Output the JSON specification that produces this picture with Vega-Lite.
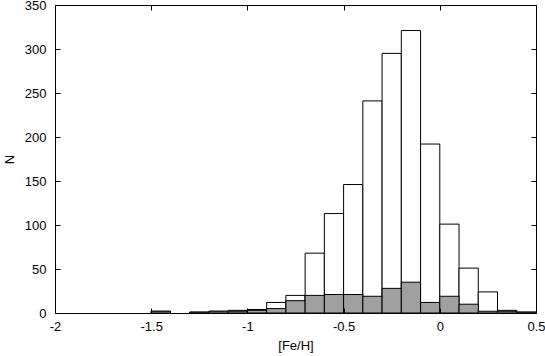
{
  "$schema": "https://vega.github.io/schema/vega-lite/v6.json",
  "autosize": {"type": "none"},
  "width": 481,
  "height": 308,
  "padding": {"left": 55, "top": 5, "right": 9, "bottom": 43},
  "background": "white",
  "config": {
    "view": {"stroke": "black", "strokeWidth": 1},
    "font": "Liberation Sans",
    "axis": {
      "grid": false,
      "domain": false,
      "ticks": true,
      "tickColor": "black",
      "tickWidth": 1,
      "tickSize": 5,
      "offset": -5,
      "labelFont": "Liberation Sans",
      "labelFontSize": 13,
      "labelColor": "black",
      "titleFont": "Liberation Sans",
      "titleFontSize": 13,
      "titleFontWeight": "normal",
      "titleColor": "black"
    }
  },
  "data": {
    "values": [
      {"lo": -1.5, "hi": -1.4, "all": 2, "sub": 2},
      {"lo": -1.3, "hi": -1.2, "all": 1, "sub": 1},
      {"lo": -1.2, "hi": -1.1, "all": 2, "sub": 2},
      {"lo": -1.1, "hi": -1.0, "all": 3, "sub": 2},
      {"lo": -1.0, "hi": -0.9, "all": 4, "sub": 3},
      {"lo": -0.9, "hi": -0.8, "all": 12, "sub": 5},
      {"lo": -0.8, "hi": -0.7, "all": 20, "sub": 14},
      {"lo": -0.7, "hi": -0.6, "all": 68, "sub": 20},
      {"lo": -0.6, "hi": -0.5, "all": 113, "sub": 21},
      {"lo": -0.5, "hi": -0.4, "all": 146, "sub": 21},
      {"lo": -0.4, "hi": -0.3, "all": 241, "sub": 19},
      {"lo": -0.3, "hi": -0.2, "all": 295, "sub": 28},
      {"lo": -0.2, "hi": -0.1, "all": 321, "sub": 35},
      {"lo": -0.1, "hi": 0.0, "all": 192, "sub": 12},
      {"lo": 0.0, "hi": 0.1, "all": 101, "sub": 19},
      {"lo": 0.1, "hi": 0.2, "all": 51, "sub": 10},
      {"lo": 0.2, "hi": 0.3, "all": 24, "sub": 2},
      {"lo": 0.3, "hi": 0.4, "all": 3, "sub": 2},
      {"lo": 0.4, "hi": 0.5, "all": 1, "sub": 1}
    ]
  },
  "layer": [
    {
      "mark": {"type": "bar", "fill": "white", "stroke": "black", "strokeWidth": 1},
      "encoding": {
        "x": {
          "field": "lo", "type": "quantitative",
          "scale": {"domain": [-2, 0.5], "nice": false, "zero": false},
          "axis": {
            "orient": "bottom",
            "title": "[Fe/H]",
            "values": [-2, -1.5, -1, -0.5, 0, 0.5],
            "labelExpr": "datum.value + ''",
            "labelPadding": 7,
            "labelFlush": false,
            "titlePadding": 6,
            "zindex": 1
          }
        },
        "x2": {"field": "hi"},
        "y": {
          "field": "all", "type": "quantitative",
          "scale": {"domain": [0, 350], "nice": false},
          "axis": {
            "orient": "left",
            "title": "N",
            "values": [0, 50, 100, 150, 200, 250, 300, 350],
            "labelPadding": 9,
            "labelFlush": false,
            "titlePadding": 8,
            "zindex": 1
          }
        },
        "y2": {"datum": 0}
      }
    },
    {
      "mark": {"type": "bar", "fill": "#a0a0a0", "stroke": "black", "strokeWidth": 1},
      "encoding": {
        "x": {
          "field": "lo", "type": "quantitative",
          "scale": {"domain": [-2, 0.5], "nice": false, "zero": false},
          "axis": {
            "orient": "top",
            "title": null,
            "labels": false,
            "values": [-2, -1.5, -1, -0.5, 0, 0.5],
            "zindex": 1
          }
        },
        "x2": {"field": "hi"},
        "y": {
          "field": "sub", "type": "quantitative",
          "scale": {"domain": [0, 350], "nice": false},
          "axis": {
            "orient": "right",
            "title": null,
            "labels": false,
            "values": [0, 50, 100, 150, 200, 250, 300, 350],
            "zindex": 1
          }
        },
        "y2": {"datum": 0}
      }
    }
  ],
  "resolve": {"axis": {"x": "independent", "y": "independent"}}
}
